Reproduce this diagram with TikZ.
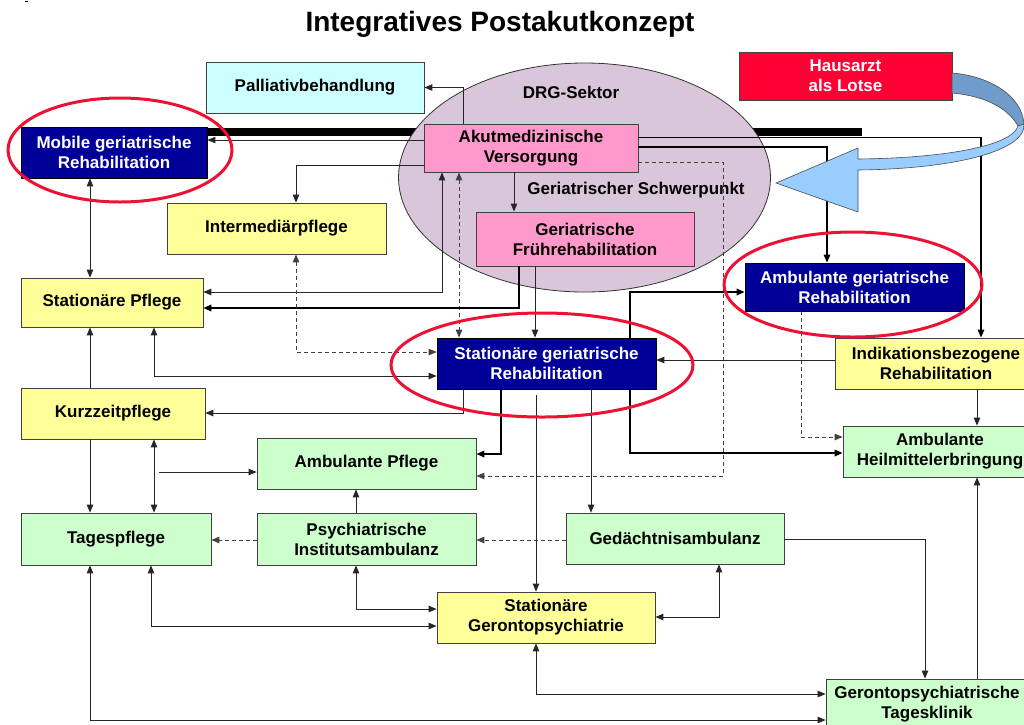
\documentclass[tikz,border=0pt]{standalone}
\usepackage{fontspec}
\setmainfont{Liberation Sans}
\usetikzlibrary{arrows.meta,calc}
\definecolor{cyanbox}{HTML}{CCFFFF}
\definecolor{yel}{HTML}{FFFF99}
\definecolor{grn}{HTML}{CCFFCC}
\definecolor{pnk}{HTML}{FF99CC}
\definecolor{navy}{HTML}{000099}
\definecolor{redbox}{HTML}{FF0033}
\definecolor{drg}{HTML}{DAC6DB}
\definecolor{ringred}{HTML}{EE1133}
\definecolor{lblue}{HTML}{99CCFF}
\definecolor{dblue}{HTML}{6F9CCB}
\tikzset{
  box/.style={draw=black!75, line width=0.8pt, align=center, inner sep=0pt,
    font=\bfseries\fontsize{17}{20}\selectfont},
  yelbox/.style={box, fill=yel},
  grnbox/.style={box, fill=grn},
  pnkbox/.style={box, fill=pnk},
  navybox/.style={box, fill=navy, text=white, draw=black},
  lbl/.style={font=\bfseries\fontsize{17}{20}\selectfont, inner sep=0pt},
  con/.style={draw=black!85, line width=0.9pt},
  thk/.style={draw=black, line width=1.8pt},
  mid/.style={draw=black, line width=1.4pt},
  dsh/.style={draw=black!75, line width=0.9pt, dash pattern=on 4pt off 3pt},
  tip/.style={-{Triangle[length=8pt,width=6.5pt]}},
  tips/.style={{Triangle[length=8pt,width=6.5pt]}-{Triangle[length=8pt,width=6.5pt]}},
  ring/.style={draw=ringred, line width=3pt}
}
\begin{document}
\begin{tikzpicture}[x=1pt,y=-1pt]
\useasboundingbox (0,0) rectangle (1024,724);
\clip (0,0) rectangle (1024,724);
\fill[white] (0,0) rectangle (1024,724);
\fill[black] (25,0.5) rectangle (27.5,1.8);

% title
\node[font=\bfseries\fontsize{28}{32}\selectfont, inner sep=0pt] (title) at (500,24) {Integratives Postakutkonzept};

% thick bar (behind the DRG ellipse)
\fill[black] (207,128) rectangle (862,135.5);

% DRG sector
\draw[fill=drg, draw=black!80, line width=0.8pt] (584.5,177.5) ellipse [x radius=186, y radius=114.5];
\node[lbl] (drglbl) at (571,92) {DRG-Sektor};
\node[lbl] (gslbl) at (636,190) {Geriatrischer Schwerpunkt};

% nodes
\node[box, fill=cyanbox, minimum width=218, minimum height=51] (pall) at (315,87.5) {Palliativbehandlung};
\node[box, fill=redbox, text=white, minimum width=213, minimum height=48] (haus) at (845.5,76) {Hausarzt\\als Lotse};
\node[pnkbox, minimum width=214, minimum height=48] (akut) at (531,148) {Akutmedizinische\\Versorgung};
\node[pnkbox, minimum width=218, minimum height=54] (frueh) at (585,239) {Geriatrische\\Frührehabilitation};
\node[navybox, minimum width=186, minimum height=51] (mobile) at (114,152.5) {Mobile geriatrische\\Rehabilitation};
\node[yelbox, minimum width=219, minimum height=51] (inter) at (276.5,228.5) {Intermediärpflege};
\node[yelbox, minimum width=182, minimum height=49] (statpfl) at (112,302.5) {Stationäre Pflege};
\node[navybox, minimum width=219, minimum height=48] (ambger) at (854.5,287) {Ambulante geriatrische\\Rehabilitation};
\node[navybox, minimum width=219, minimum height=51] (statger) at (546.5,363.5) {Stationäre geriatrische\\Rehabilitation};
\node[yelbox, minimum width=202, minimum height=51] (indik) at (936,363.5) {Indikationsbezogene\\Rehabilitation};
\node[yelbox, minimum width=184, minimum height=51] (kurz) at (113,413.5) {Kurzzeitpflege};
\node[grnbox, minimum width=219, minimum height=51] (ambpfl) at (366.5,463.5) {Ambulante Pflege};
\node[grnbox, minimum width=194, minimum height=51] (heil) at (940,451.5) {Ambulante\\Heilmittelerbringung};
\node[grnbox, minimum width=190, minimum height=52] (tages) at (116,539) {Tagespflege};
\node[grnbox, minimum width=219, minimum height=52] (pia) at (366.5,539) {Psychiatrische\\Institutsambulanz};
\node[grnbox, minimum width=218, minimum height=51] (gedae) at (675,538.5) {Gedächtnisambulanz};
\node[yelbox, minimum width=218, minimum height=51] (geronto) at (546,617.5) {Stationäre\\Gerontopsychiatrie};
\node[grnbox, minimum width=202, minimum height=51] (tklinik) at (927,704.5) {Gerontopsychiatrische\\Tagesklinik};

% helper coordinates for free ends
\coordinate (k1) at (723,476);
\coordinate (s0) at (536,395);
\coordinate (z0) at (159,472);

% connectors from Akut
\draw[con,tip] (463,0 |- akut.north) |- (pall.east);
\draw[con,tip] (0,140 -| akut.west) -- (0,140 -| mobile.east);
\draw[con,tip] (0,165 -| akut.west) -| (296,0 |- inter.north);
\draw[con,tips] (442,0 |- akut.south) |- (0,292 -| statpfl.east);
\draw[con,tip] (514,0 |- akut.south) -- (514,0 |- frueh.north);
\draw[dsh,tips] (459,0 |- akut.south) -- (459,0 |- statger.north);
\draw[mid,tip] (0,147 -| akut.east) -| (827,0 |- ambger.north);
\draw[mid,tip] (0,137.5 -| akut.east) -| (981,0 |- indik.north);
\draw[dsh] (0,162 -| akut.east) -| (k1);
\draw[dsh,tip] (k1) -- (0,476 -| ambpfl.east);

% from Frühreha
\draw[thk,tip] (519,0 |- frueh.south) |- (0,308 -| statpfl.east);
\draw[con,tip] (535,0 |- frueh.south) -- (535,0 |- statger.north);

% left column
\draw[con,tips] (90,0 |- mobile.south) -- (90,0 |- statpfl.north);
\draw[con,tip] (90,0 |- kurz.north) -- (90,0 |- statpfl.south);
\draw[con,tip] (90,0 |- kurz.south) -- (90,0 |- tages.north);
\draw[con,tips] (154,0 |- kurz.south) -- (154,0 |- tages.north);
\draw[con,tip] (z0) -- (0,472 -| ambpfl.west);
\draw[dsh,tips] (296,0 |- inter.south) |- (0,352 -| statger.west);
\draw[con,tips] (154,0 |- statpfl.south) |- (0,376 -| statger.west);

% from Stationäre geriatrische Reha
\draw[thk,tip] (630,0 |- statger.north) |- (0,292 -| ambger.west);
\draw[thk,tip] (630,0 |- statger.south) |- (0,453 -| heil.west);
\draw[con,tip] (463,0 |- statger.south) |- (0,413 -| kurz.east);
\draw[thk,tip] (501,0 |- statger.south) |- (0,454 -| ambpfl.east);
\draw[con,tip] (s0) -- (536,0 |- geronto.north);
\draw[con,tip] (591,0 |- statger.south) -- (591,0 |- gedae.north);

% right side
\draw[dsh,tip] (801,0 |- ambger.south) |- (0,437 -| heil.west);
\draw[con,tip] (0,360 -| indik.west) -- (0,360 -| statger.east);
\draw[con,tip] (977,0 |- indik.south) -- (977,0 |- heil.north);

% lower part
\draw[dsh,tip] (0,540 -| gedae.west) -- (0,540 -| pia.east);
\draw[dsh,tip] (0,540 -| pia.west) -- (0,540 -| tages.east);
\draw[con,tip] (356,0 |- pia.north) -- (356,0 |- ambpfl.south);
\draw[con,tips] (151,0 |- tages.south) |- (0,626 -| geronto.west);
\draw[con,tips] (356,0 |- pia.south) |- (0,609 -| geronto.west);
\draw[con,tips] (90,0 |- tages.south) |- (0,720 -| tklinik.west);
\draw[con,tips] (536,0 |- geronto.south) |- (0,694 -| tklinik.west);
\draw[con,tips] (719,0 |- gedae.south) |- (0,617 -| geronto.east);
\draw[con,tip] (0,539 -| gedae.east) -| (925,0 |- tklinik.north);
\draw[con,tip] (977,0 |- tklinik.north) -- (977,0 |- heil.south);

% Hausarzt curved arrow
\draw[fill=dblue, draw=black!70, line width=0.6pt]
  (952,73) .. controls (990,76) and (1022,96) .. (1024,124)
  -- (1018,126) .. controls (1008,108) and (985,96) .. (952,93) -- cycle;
\draw[fill=lblue, draw=black!70, line width=0.6pt]
  (1024,124) .. controls (1026,152) and (950,169) .. (858,170)
  -- (858,212) -- (776,183) -- (858,148) -- (858,159)
  .. controls (945,158) and (1012,146) .. (1018,126) -- cycle;

% red rings
\draw[ring] (120,150) ellipse [x radius=112, y radius=52];
\draw[ring] (853,284.5) ellipse [x radius=129, y radius=52.5];
\draw[ring] (542,365) ellipse [x radius=151, y radius=52];
\end{tikzpicture}
\end{document}
